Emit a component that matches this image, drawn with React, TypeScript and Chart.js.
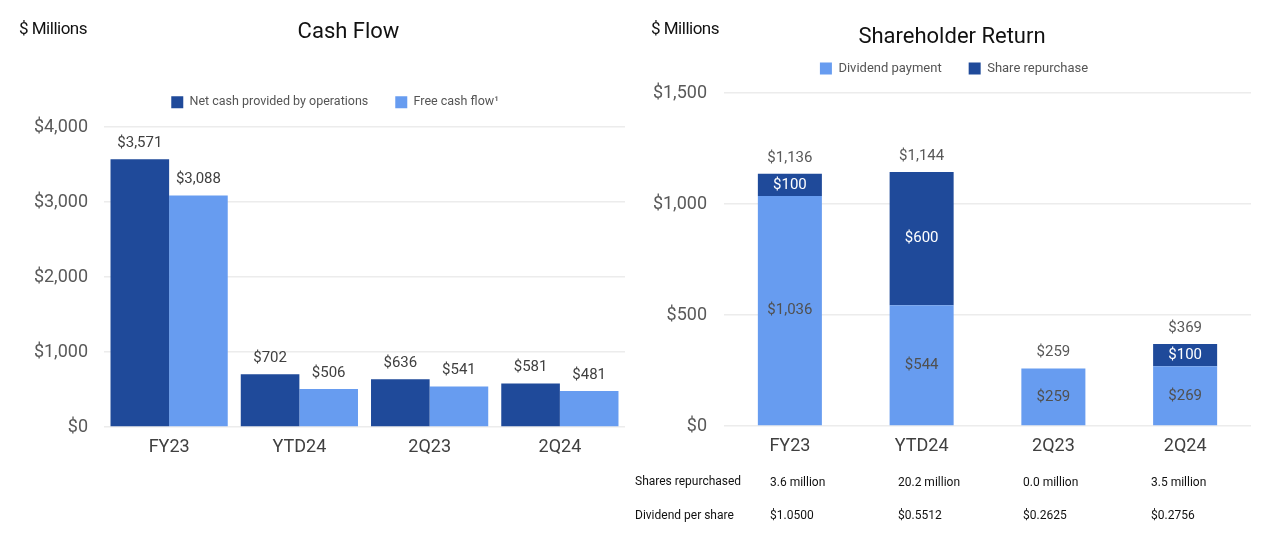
import React, { useEffect, useRef } from 'react';
import { Chart, registerables } from 'chart.js';

Chart.register(...registerables);

// ---------- data ----------
const cashCategories = ['FY23', 'YTD24', '2Q23', '2Q24'];
const netCashOps = [3571, 702, 636, 581];
const freeCashFlow = [3088, 506, 541, 481];
const cashTicks = [0, 1000, 2000, 3000, 4000];

const srCategories = ['FY23', 'YTD24', '2Q23', '2Q24'];
const dividendPayment = [1036, 544, 259, 269];
const shareRepurchase = [100, 600, 0, 100];
const srTicks = [0, 500, 1000, 1500];

const tableRowLabels = ['Shares repurchased', 'Dividend per share'];
const sharesRepurchasedRow = ['3.6 million', '20.2 million', '0.0 million', '3.5 million'];
const dividendPerShareRow = ['$1.0500', '$0.5512', '$0.2625', '$0.2756'];

// ---------- styles ----------
const DARK = '#1F4A9A';
const LIGHT = '#679CF0';
const FONT = 'Roboto';
const fmt = (v: number) => '$' + v.toLocaleString('en-US');

// fixes legend box height and shifts it horizontally
const legendBox = (h: number, dx: number) => ({
  id: 'legendBox',
  beforeLayout(chart: any) {
    const lg = chart.legend;
    if (lg && !lg._patched) {
      const orig = lg.fit.bind(lg);
      lg.fit = function () {
        orig();
        this.height = h;
      };
      lg._patched = true;
    }
  },
  afterLayout(chart: any) {
    const lg = chart.legend;
    if (lg) {
      lg.left += dx;
      lg.right += dx;
    }
  },
});

const aboveLabels = {
  id: 'aboveLabels',
  afterDatasetsDraw(chart: any) {
    const ctx = chart.ctx;
    ctx.save();
    ctx.font = `15px ${FONT}`;
    ctx.textAlign = 'center';
    ctx.textBaseline = 'middle';
    ctx.fillStyle = '#404040';
    chart.data.datasets.forEach((ds: any, i: number) => {
      const meta = chart.getDatasetMeta(i);
      meta.data.forEach((bar: any, j: number) => {
        ctx.fillText(fmt(ds.data[j]), bar.x, bar.y - 16);
      });
    });
    ctx.restore();
  },
};

const stackLabels = {
  id: 'stackLabels',
  afterDatasetsDraw(chart: any) {
    const ctx = chart.ctx;
    ctx.save();
    ctx.font = `15px ${FONT}`;
    ctx.textAlign = 'center';
    ctx.textBaseline = 'middle';
    const n = chart.data.labels.length;
    for (let j = 0; j < n; j++) {
      let top = Infinity;
      let total = 0;
      let x = 0;
      chart.data.datasets.forEach((ds: any, i: number) => {
        const bar = chart.getDatasetMeta(i).data[j];
        const v = ds.data[j];
        total += v;
        x = bar.x;
        if (!v) return;
        top = Math.min(top, bar.y);
        ctx.fillStyle = i === 0 ? '#505050' : '#ffffff';
        ctx.fillText(fmt(v), bar.x, (bar.y + bar.base) / 2);
      });
      ctx.fillStyle = '#595959';
      ctx.fillText(fmt(total), x, top - 16);
    }
    ctx.restore();
  },
};

const tickFont = { family: FONT, size: 18 };

function CashFlowChart() {
  const ref = useRef<HTMLCanvasElement>(null);
  useEffect(() => {
    const chart = new Chart(ref.current as HTMLCanvasElement, {
      type: 'bar',
      data: {
        labels: cashCategories,
        datasets: [
          { label: 'Net cash provided by operations', data: netCashOps, backgroundColor: DARK },
          { label: 'Free cash flow¹', data: freeCashFlow, backgroundColor: LIGHT },
        ],
      },
      options: {
        responsive: false,
        animation: false,
        layout: { padding: { left: 0, right: 15, top: 69, bottom: 70 } },
        datasets: { bar: { categoryPercentage: 0.9, barPercentage: 1.0 } },
        plugins: {
          legend: {
            labels: { boxWidth: 12, boxHeight: 12, padding: 27, color: '#555555', font: { family: FONT, size: 12.5 } },
          },
          tooltip: { enabled: false },
        },
        scales: {
          x: {
            grid: { display: false },
            border: { display: false },
            ticks: { color: '#404040', font: tickFont, padding: 2 },
            afterFit: (s: any) => { s.height = 40; },
          },
          y: {
            min: 0,
            max: 4000,
            afterBuildTicks: (s: any) => { s.ticks = cashTicks.map((v) => ({ value: v })); },
            grid: { color: '#ececec', lineWidth: 1.5, drawTicks: false },
            border: { display: false },
            ticks: { color: '#595959', font: tickFont, padding: 16, callback: (v: any) => fmt(Number(v)) },
            afterFit: (s: any) => { s.width = 104; },
          },
        },
      } as any,
      plugins: [legendBox(58, 22.5), aboveLabels],
    });
    return () => chart.destroy();
  }, []);
  return <canvas ref={ref} width={640} height={537} style={{ position: 'absolute', left: 0, top: 0 }} />;
}

function ShareholderChart() {
  const ref = useRef<HTMLCanvasElement>(null);
  useEffect(() => {
    const chart = new Chart(ref.current as HTMLCanvasElement, {
      type: 'bar',
      data: {
        labels: srCategories,
        datasets: [
          { label: 'Dividend payment', data: dividendPayment, backgroundColor: LIGHT },
          { label: 'Share repurchase', data: shareRepurchase, backgroundColor: DARK },
        ],
      },
      options: {
        responsive: false,
        animation: false,
        layout: { padding: { left: 0, right: 29, top: 35, bottom: 71 } },
        datasets: { bar: { categoryPercentage: 0.486, barPercentage: 1.0 } },
        plugins: {
          legend: {
            labels: { boxWidth: 12, boxHeight: 12, padding: 27, color: '#555555', font: { family: FONT, size: 13 } },
          },
          tooltip: { enabled: false },
        },
        scales: {
          x: {
            stacked: true,
            grid: { display: false },
            border: { display: false },
            ticks: { color: '#404040', font: tickFont, padding: 2 },
            afterFit: (s: any) => { s.height = 40; },
          },
          y: {
            stacked: true,
            min: 0,
            max: 1500,
            afterBuildTicks: (s: any) => { s.ticks = srTicks.map((v) => ({ value: v })); },
            grid: { color: '#ececec', lineWidth: 1.5, drawTicks: false },
            border: { display: false },
            ticks: { color: '#595959', font: tickFont, padding: 17, callback: (v: any) => fmt(Number(v)) },
            afterFit: (s: any) => { s.width = 84; },
          },
        },
      } as any,
      plugins: [legendBox(58, 8.5), stackLabels],
    });
    return () => chart.destroy();
  }, []);
  return <canvas ref={ref} width={640} height={537} style={{ position: 'absolute', left: 640, top: 0 }} />;
}

const textAt = (text: string, left: number, cy: number, size: number, extra: any = {}) => (
  <div
    style={{
      position: 'absolute',
      left,
      top: cy - size * 0.6,
      fontSize: size,
      lineHeight: `${size * 1.2}px`,
      fontFamily: FONT,
      color: '#111111',
      whiteSpace: 'nowrap',
      ...extra,
    }}
  >
    {text}
  </div>
);

const tableCols = [770, 898, 1023, 1151];

export default function App() {
  return (
    <div style={{ position: 'fixed', left: 0, top: 0, width: 1280, height: 537, background: '#ffffff', overflow: 'hidden' }}>
      <CashFlowChart />
      <ShareholderChart />
      {textAt('$ Millions', 19, 28, 17, { letterSpacing: '-0.5px' })}
      {textAt('Cash Flow', 0, 31, 22, { width: 697, textAlign: 'center' })}
      {textAt('$ Millions', 651, 28, 17, { letterSpacing: '-0.5px' })}
      {textAt('Shareholder Return', 0, 36, 22, { left: 652, width: 600, textAlign: 'center' })}
      {textAt(tableRowLabels[0], 635, 481, 12)}
      {textAt(tableRowLabels[1], 635, 515, 12)}
      {sharesRepurchasedRow.map((t, i) => (
        <React.Fragment key={'s' + i}>{textAt(t, tableCols[i], 482, 12)}</React.Fragment>
      ))}
      {dividendPerShareRow.map((t, i) => (
        <React.Fragment key={'d' + i}>{textAt(t, tableCols[i], 515, 12)}</React.Fragment>
      ))}
    </div>
  );
}
